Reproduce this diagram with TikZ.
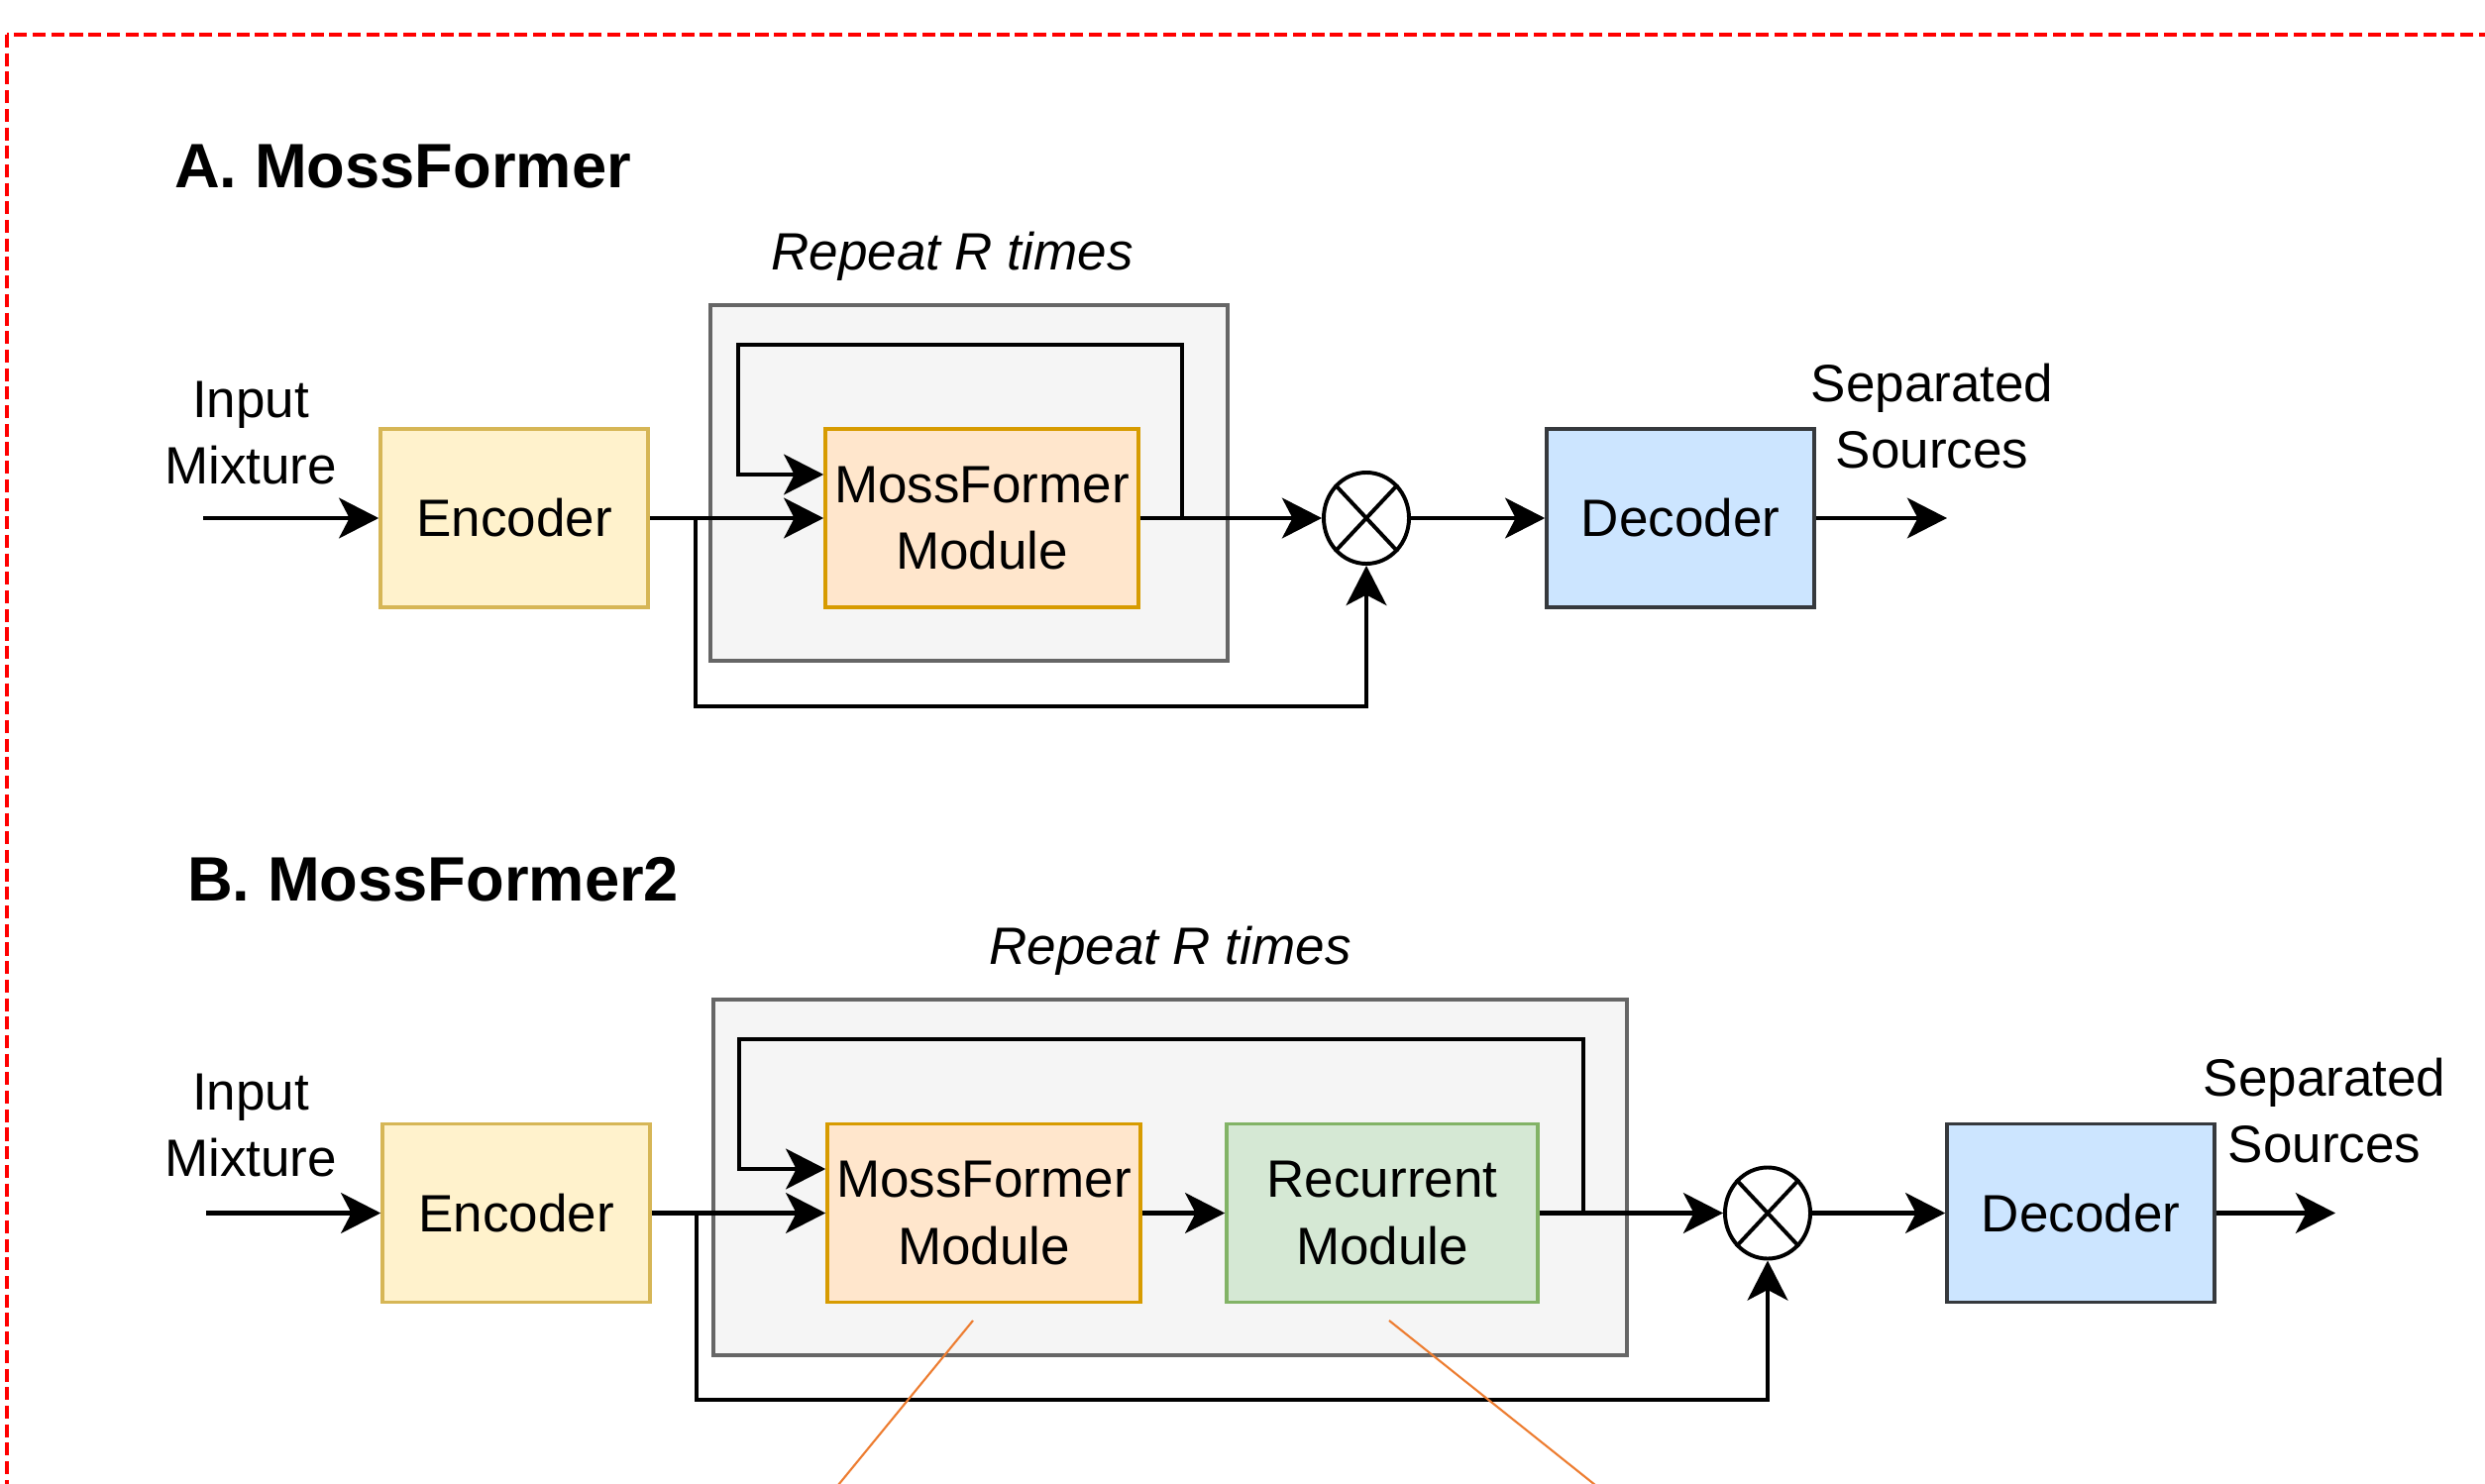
\documentclass[tikz,border=0pt]{standalone}
\usepackage{fontspec}
\setmainfont{Liberation Sans}
\usetikzlibrary{arrows.meta,shapes.geometric,calc}
\definecolor{encfill}{HTML}{FFF2CC}\definecolor{encdraw}{HTML}{D6B656}
\definecolor{modfill}{HTML}{FFE6CC}\definecolor{moddraw}{HTML}{D79B00}
\definecolor{recfill}{HTML}{D5E8D4}\definecolor{recdraw}{HTML}{82B366}
\definecolor{decfill}{HTML}{CCE5FF}\definecolor{decdraw}{HTML}{36393D}
\definecolor{grayfill}{HTML}{F5F5F5}\definecolor{graydraw}{HTML}{666666}
\definecolor{orangeline}{HTML}{ED7D31}
\begin{document}
\begin{tikzpicture}[x=0.025cm,y=-0.025cm,
  txt/.style={font=\fontsize{37.7}{48}\selectfont, align=center, inner sep=0pt},
  ttl/.style={font=\fontsize{45}{54}\selectfont\bfseries, inner sep=0pt, anchor=west},
  rep/.style={font=\fontsize{37.7}{48}\selectfont\itshape, inner sep=0pt},
  blk/.style={txt, draw, line width=2.5pt, minimum height=4.5cm},
  encbox/.style={blk, fill=encfill, draw=encdraw, minimum width=6.75cm},
  modbox/.style={blk, fill=modfill, draw=moddraw, minimum width=7.9cm},
  recbox/.style={blk, fill=recfill, draw=recdraw, minimum width=7.85cm},
  decbox/.style={blk, fill=decfill, draw=decdraw, minimum width=6.75cm},
  graybox/.style={draw=graydraw, fill=grayfill, line width=2.9pt, minimum height=8.975cm, inner sep=0pt},
  xnode/.style={ellipse, draw, line width=2.8pt, fill=white, minimum width=2.15cm, minimum height=2.3cm, inner sep=0pt},
  xline/.style={line width=2.8pt},
  ln/.style={line width=3pt},
  arr/.style={ln, -{Stealth[length=28.5pt,width=29pt,inset=7.5pt]}},
  oline/.style={draw=orangeline, line width=1.5pt}
]
\useasboundingbox (0,0) rectangle (2508,1498);

% red dashed frame
\begin{scope}
\clip (0,0) rectangle (2508,1498);
\draw[red, line width=2.9pt, dash pattern=on 9.3pt off 4pt] (7,35) rectangle (2560,1560);
\end{scope}

% ---------------- A ----------------
\node[ttl] (titleA) at (176,168) {A. MossFormer};
\node[graybox, minimum width=13.05cm] (repA) at (978,487.5) {};
\node[rep] (repAtxt) at (961,259) {Repeat R times};

\node[txt] (inAtxt) at (253,437) {Input\\Mixture};
\node[encbox] (encA) at (519,523) {Encoder};
\node[modbox] (modA) at (991,523) {MossFormer\\Module};
\node[xnode] (circA) at (1379,523) {};
\draw[xline] (circA.north west) -- (circA.south east);
\draw[xline] (circA.north east) -- (circA.south west);
\node[decbox] (decA) at (1696,523) {Decoder};
\node[txt] (outAtxt) at (1950,420) {Separated\\Sources};

\coordinate (inA) at (205,523);
\coordinate (outA) at (1965,523);
\coordinate (fbA) at (1193,523);
\coordinate (topA) at (745,348);
\coordinate (skA) at (702,523);
\coordinate (skAb) at (702,713);

\draw[arr] (inA) -- (encA.west);
\draw[arr] (encA.east) -- (modA.west);
\draw[arr] (modA.east) -- (circA.west);
\draw[arr] (circA.east) -- (decA.west);
\draw[arr] (decA.east) -- (outA);
\draw[arr] (fbA) |- (topA) |- ($(modA.west)+(0,-44)$);
\draw[arr] (skA) -- (skAb) -| (circA.south);

% ---------------- B ----------------
\node[ttl] (titleB) at (189,888) {B. MossFormer2};
\node[graybox, minimum width=23.05cm] (repB) at (1181,1188.5) {};
\node[rep] (repBtxt) at (1181,960) {Repeat R times};

\node[txt] (inBtxt) at (253,1136) {Input\\Mixture};
\node[encbox] (encB) at (521,1224.5) {Encoder};
\node[modbox] (modB) at (993,1224.5) {MossFormer\\Module};
\node[recbox] (recB) at (1395,1224.5) {Recurrent\\Module};
\node[xnode] (circB) at (1784,1224.5) {};
\draw[xline] (circB.north west) -- (circB.south east);
\draw[xline] (circB.north east) -- (circB.south west);
\node[decbox] (decB) at (2100,1224.5) {Decoder};
\node[txt] (outBtxt) at (2346,1121) {Separated\\Sources};

\coordinate (inB) at (208,1224.5);
\coordinate (outB) at (2357,1224.5);
\coordinate (fbB) at (1598,1224.5);
\coordinate (topB) at (746,1049);
\coordinate (skB) at (703,1224.5);
\coordinate (skBb) at (703,1413);

\draw[arr] (inB) -- (encB.west);
\draw[arr] (encB.east) -- (modB.west);
\draw[arr] (modB.east) -- (recB.west);
\draw[arr] (recB.east) -- (circB.west);
\draw[arr] (circB.east) -- (decB.west);
\draw[arr] (decB.east) -- (outB);
\draw[arr] (fbB) |- (topB) |- ($(modB.west)+(0,-44.5)$);
\draw[arr] (skB) -- (skBb) -| (circB.south);

% orange pointer lines
\coordinate (o1a) at (982,1333);
\coordinate (o1b) at (846,1499);
\coordinate (o2a) at (1402,1333);
\coordinate (o2b) at (1610,1499);
\draw[oline] (o1a) -- (o1b);
\draw[oline] (o2a) -- (o2b);
\end{tikzpicture}
\end{document}
